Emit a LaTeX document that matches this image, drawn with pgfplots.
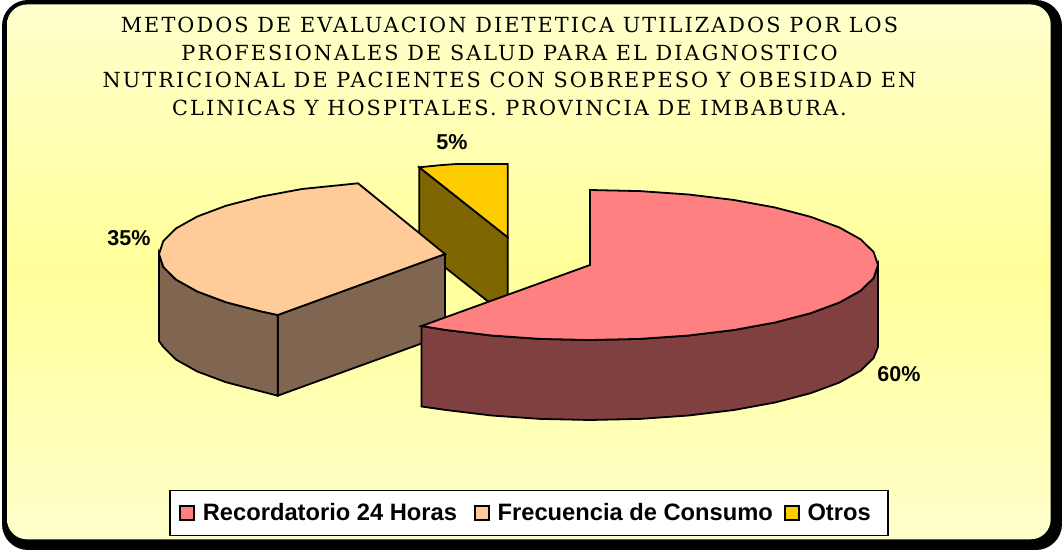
\documentclass[border=0pt]{standalone}
\usepackage{pgfplots}
\pgfplotsset{compat=1.18}
\usepackage{fontspec}
\setmainfont{Liberation Sans}
\newfontfamily\titlefont[LetterSpace=10]{DejaVu Serif}
\definecolor{panelA}{HTML}{FFFFCC}
\definecolor{panelB}{HTML}{FFFF99}
\definecolor{cRed}{HTML}{FF8080}
\definecolor{cRedD}{HTML}{804040}
\definecolor{cPeach}{HTML}{FFCC99}
\definecolor{cPeachD}{HTML}{806650}
\definecolor{cYel}{HTML}{FFCC00}
\definecolor{cYelD}{HTML}{806600}
\begin{document}
\begin{tikzpicture}
\begin{axis}[
  scale only axis, width=1062bp, height=550bp,
  xmin=0, xmax=1062, ymin=0, ymax=550, y dir=reverse,
  hide axis, clip=false,
  legend columns=3,
  legend image code/.code={\draw[#1,line width=1.6bp] (0bp,-7bp) rectangle (14bp,7bp);},
  legend style={
    at={(axis cs:529,513)}, anchor=center,
    draw=black, line width=1.6bp, fill=white,
    font=\fontsize{23.7bp}{26bp}\selectfont\bfseries,
    inner xsep=9bp, inner ysep=11bp,
    /tikz/every even column/.style={column sep=9bp},
    /tikz/every odd column/.style={column sep=6bp},
  },
]
\path (axis cs:0,0) rectangle (axis cs:1062,550);
\fill[black, rounded corners=26bp] (axis cs:2,0) rectangle (axis cs:1062,550);
\path[rounded corners=20bp, top color=panelA, bottom color=panelA, middle color=panelB]
  (axis cs:7,4.5) rectangle (axis cs:1050.7,539.3);

\addlegendimage{fill=cRed, draw=black}
\addlegendentry{Recordatorio 24 Horas\rule{6bp}{0pt}}
\addlegendimage{fill=cPeach, draw=black}
\addlegendentry{Frecuencia de Consumo}
\addlegendimage{fill=cYel, draw=black}
\addlegendentry{Otros\rule{6bp}{0pt}}

% Otros
\addplot[forget plot, fill=cYelD, draw=black, line width=1.8bp] coordinates {
 (419.3,167.3) (507.7,237.3) (507.7,317) (419.3,247)} --cycle;
\addplot[forget plot, fill=cYel, draw=black, line width=1.8bp] coordinates {
 (507.7,237.3) (419.3,167.3) (440,165.2) (456.7,164) (507.7,164)} --cycle;

% Frecuencia: inner wall, rim wall, top
\addplot[forget plot, fill=cPeachD, draw=black, line width=1.8bp] coordinates {
 (277.7,315) (445,254) (445,335) (277.7,395.7)} --cycle;
\addplot[forget plot, fill=cPeachD, draw=black, line width=1.8bp] coordinates {
 (159,254) (159,341) (163.3,347) (176.2,359.7) (197.3,371.5) (225.9,382.2) (261.1,391.4) (277.7,395.7)
 (277.7,315) (261.1,311.4) (225.9,302.2) (197.3,291.5) (176.2,279.7) (163.3,267)} --cycle;
\addplot[forget plot, fill=cPeach, draw=black, line width=1.8bp] coordinates {
 (445,254) (277.7,315) (261.1,311.4) (225.9,302.2) (197.3,291.5) (176.2,279.7) (163.3,267) (159,254)
 (163.3,241) (176.2,228.3) (197.3,216.5) (225.9,205.8) (261.1,196.6) (302,189) (358,183.3)} --cycle;

% Recordatorio: rim wall, top
\addplot[forget plot, fill=cRedD, draw=black, line width=1.8bp] coordinates {
 (421.5,326) (421.5,406.5) (446,410) (491.5,415.5) (540,418.9) (590,420) (640,418.9) (688.5,415.5)
 (734,410) (775,402.5) (810.6,393.2) (839.4,382.5) (860.6,370.7) (873.6,358) (878,347) (878,265)
 (873.6,278) (860.6,290.7) (839.4,302.5) (810.6,313.2) (775,322.5) (734,330) (688.5,335.5) (640,338.9)
 (590,340) (540,338.9) (491.5,335.5) (446,330)} --cycle;
\addplot[forget plot, fill=cRed, draw=black, line width=1.8bp] coordinates {
 (590,265) (590,190) (640,191.1) (688.5,194.5) (734,200) (775,207.5) (810.6,216.8) (839.4,227.5)
 (860.6,239.3) (873.6,252) (878,265) (873.6,278) (860.6,290.7) (839.4,302.5) (810.6,313.2) (775,322.5)
 (734,330) (688.5,335.5) (640,338.9) (590,340) (540,338.9) (491.5,335.5) (446,330) (421.5,326)} --cycle;

\node[font=\fontsize{21.5bp}{24bp}\selectfont\bfseries] at (axis cs:452,142) {5\%};
\node[font=\fontsize{21.5bp}{24bp}\selectfont\bfseries] at (axis cs:129,238) {35\%};
\node[font=\fontsize{21.5bp}{24bp}\selectfont\bfseries] at (axis cs:899,374) {60\%};

\node[align=center, font=\titlefont\fontsize{20.8bp}{27.8bp}\selectfont, inner sep=0pt] at (axis cs:509.5,66.5) {%
METODOS DE EVALUACION DIETETICA UTILIZADOS POR LOS\\
PROFESIONALES DE SALUD PARA EL DIAGNOSTICO\\
NUTRICIONAL DE PACIENTES CON SOBREPESO Y OBESIDAD EN\\
CLINICAS Y HOSPITALES. PROVINCIA DE IMBABURA.};
\end{axis}
\end{tikzpicture}
\end{document}
